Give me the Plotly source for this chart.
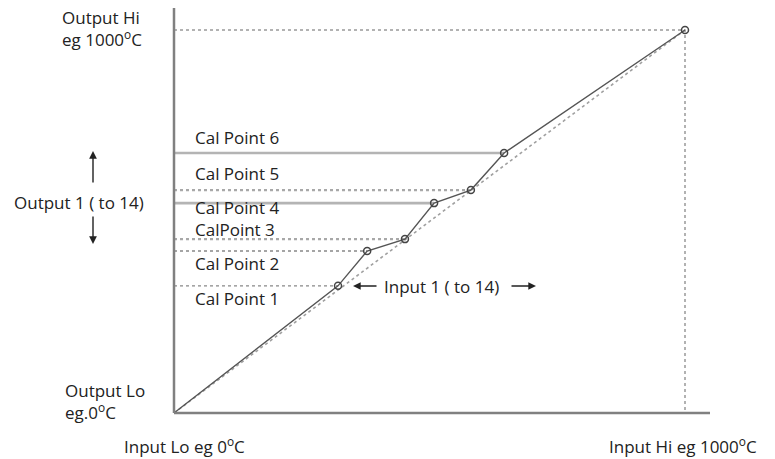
import plotly.graph_objects as go

# ---- data (input / output in degrees C, 0..1000 span) ----
cal_labels = ["Cal Point 1", "Cal Point 2", "CalPoint 3", "Cal Point 4", "Cal Point 5", "Cal Point 6"]
cal_input = [321, 378, 452, 509, 581, 646]
cal_output = [332, 423, 454, 548, 582, 679]
cal_line_style = ["dot", "dot", "dotb", "solid", "dotb", "solid"]
span_lo = 0
span_hi = 1000

# ---- pixel <-> data mapping helpers (layout only) ----
OFF = 8  # page body margin
W, H = 775 - 2 * OFF, 459 - OFF
X0P, X1P = 174, 685
Y0P, Y1P = 413, 30
sx = (X1P - X0P) / 1000.0
sy = (Y0P - Y1P) / 1000.0

def px(p):
    return (p - X0P) / sx

def py(p):
    return (Y0P - p) / sy

FONT = "Open Sans"
FS = 17
TXT = "#222222"

fig = go.Figure()

# diagonal ideal line (dotted)
fig.add_trace(go.Scatter(x=[span_lo, span_hi], y=[span_lo, span_hi], mode="lines",
                         line=dict(color="#a0a0a0", width=1.6, dash="dot"),
                         hoverinfo="skip", showlegend=False))

# horizontal cal lines
for xi, yi, st in zip(cal_input, cal_output, cal_line_style):
    if st == "solid":
        ln = dict(color="#b4b4b4", width=2.6)
    elif st == "dotb":
        ln = dict(color="#a8a8a8", width=2.2, dash="dot")
    else:
        ln = dict(color="#888888", width=1.3, dash="dot")
    fig.add_trace(go.Scatter(x=[span_lo, xi], y=[yi, yi], mode="lines", line=ln,
                             hoverinfo="skip", showlegend=False))

# output hi / input hi dotted lines
fig.add_trace(go.Scatter(x=[span_lo, span_hi, span_hi], y=[span_hi, span_hi, span_lo], mode="lines",
                         line=dict(color="#999999", width=1.5, dash="dot"),
                         hoverinfo="skip", showlegend=False))

# calibrated polyline
xs = [span_lo] + cal_input + [span_hi]
ys = [span_lo] + cal_output + [span_hi]
fig.add_trace(go.Scatter(x=xs, y=ys, mode="lines",
                         line=dict(color="#555555", width=1.4),
                         hoverinfo="skip", showlegend=False))
fig.add_trace(go.Scatter(x=cal_input + [span_hi], y=cal_output + [span_hi], mode="markers",
                         marker=dict(symbol="circle-open", size=7, color="#444444",
                                     line=dict(width=1.5, color="#444444")),
                         hoverinfo="skip", showlegend=False))

# axis lines
fig.add_shape(type="line", x0=0, y0=0, x1=0, y1=py(5), line=dict(color="#808080", width=2.5))
fig.add_shape(type="line", x0=0, y0=0, x1=px(710), y1=0, line=dict(color="#808080", width=2.5))

ann = []
def text(s, xp, yp, xanchor="left"):
    ann.append(dict(x=px(xp), y=py(yp), text=s, showarrow=False, xanchor=xanchor, yanchor="middle",
                    align="left", font=dict(family=FONT, size=FS, color=TXT)))

deg = "<sup>o</sup>C"
text("Output Hi<br>eg 1000" + deg, 60, 28)
text("Output 1 ( to 14)", 12, 202)
text("Output Lo<br>eg.0" + deg, 63, 401)
text("Input Lo eg 0" + deg, 122, 445)
text("Input Hi eg 1000" + deg, 607, 445)
label_y = [298, 263, 229, 207, 173, 137]
for lab, yp in zip(cal_labels, label_y):
    text(lab, 193, yp)
text("Input 1 ( to 14)", 382, 286)

def arrow(x0p, y0p, x1p, y1p):
    ann.append(dict(x=px(x1p), y=py(y1p), ax=px(x0p), ay=py(y0p), axref="x", ayref="y",
                    xref="x", yref="y", text="", showarrow=True, arrowhead=2, arrowsize=1.1,
                    arrowwidth=1.4, arrowcolor="#222222"))

arrow(93, 184, 93, 151)
arrow(93, 215, 93, 244)
arrow(378, 286, 353, 286)
arrow(510, 286, 536, 286)

# figure pixel p corresponds to page pixel p + OFF
fig.update_layout(
    width=W, height=H, margin=dict(l=0, r=0, t=0, b=0),
    paper_bgcolor="white", plot_bgcolor="white",
    xaxis=dict(range=[px(OFF), px(OFF + W)], visible=False, fixedrange=True),
    yaxis=dict(range=[py(OFF + H), py(OFF)], visible=False, fixedrange=True),
    annotations=ann, showlegend=False,
)
fig.write_html("out.html")
